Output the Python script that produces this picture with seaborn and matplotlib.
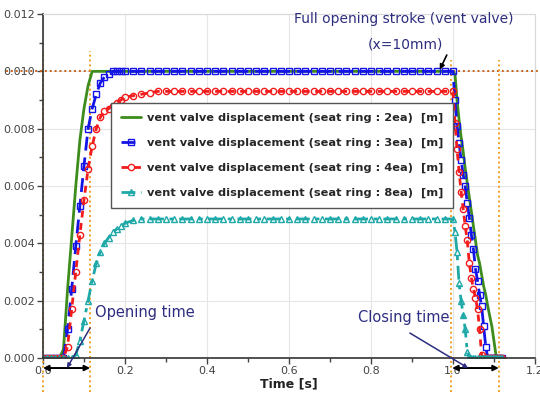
import matplotlib
matplotlib.use("Agg")
import matplotlib.pyplot as plt
import seaborn as sns
import pandas as pd

# ---------------- data ----------------
t_rise = [0.00, 0.01, 0.02, 0.03, 0.04, 0.05, 0.06, 0.07, 0.08, 0.09, 0.10,
          0.11, 0.12, 0.13, 0.14, 0.15, 0.16, 0.17, 0.18, 0.19, 0.20]
t_mid = [0.22, 0.24, 0.26, 0.28, 0.30, 0.32, 0.34, 0.36, 0.38, 0.40, 0.42, 0.44, 0.46,
         0.48, 0.50, 0.52, 0.54, 0.56, 0.58, 0.60, 0.62, 0.64, 0.66, 0.68, 0.70, 0.72,
         0.74, 0.76, 0.78, 0.80, 0.82, 0.84, 0.86, 0.88, 0.90, 0.92, 0.94, 0.96, 0.98]
t_close = [1.000, 1.005, 1.010, 1.015, 1.020, 1.025, 1.030, 1.035, 1.040, 1.045,
           1.050, 1.055, 1.060, 1.065, 1.070, 1.075, 1.080, 1.085, 1.090, 1.095,
           1.100, 1.105, 1.110, 1.115, 1.120]

green_rise = [0, 0, 0, 0, 0, 0.0003, 0.0024, 0.0042, 0.0060, 0.0076, 0.0087, 0.0095,
              0.0100, 0.0100, 0.0100, 0.0100, 0.0100, 0.0100, 0.0100, 0.0100, 0.0100]
green_mid = [0.0100, 0.0100, 0.0100, 0.0100, 0.0100, 0.0100, 0.0100, 0.0100, 0.0100, 0.0100,
             0.0100, 0.0100, 0.0100, 0.0100, 0.0100, 0.0100, 0.0100, 0.0100, 0.0100, 0.0100,
             0.0100, 0.0100, 0.0100, 0.0100, 0.0100, 0.0100, 0.0100, 0.0100, 0.0100, 0.0100,
             0.0100, 0.0100, 0.0100, 0.0100, 0.0100, 0.0100, 0.0100, 0.0100, 0.0100]
green_close = [0.0100, 0.0099, 0.0090, 0.0083, 0.0077, 0.0072, 0.0066, 0.0061, 0.0056, 0.0051,
               0.0046, 0.0041, 0.0036, 0.0033, 0.0029, 0.0025, 0.0022, 0.0018, 0.00145, 0.0011,
               0.0006, 0.0001, 0, 0, 0]

blue_rise = [0, 0, 0, 0, 0, 0, 0.0010, 0.0024, 0.0039, 0.0053, 0.0067, 0.0080,
             0.0087, 0.0092, 0.0096, 0.0098, 0.0099, 0.0100, 0.0100, 0.0100, 0.0100]
blue_mid = [0.0100, 0.0100, 0.0100, 0.0100, 0.0100, 0.0100, 0.0100, 0.0100, 0.0100, 0.0100,
            0.0100, 0.0100, 0.0100, 0.0100, 0.0100, 0.0100, 0.0100, 0.0100, 0.0100, 0.0100,
            0.0100, 0.0100, 0.0100, 0.0100, 0.0100, 0.0100, 0.0100, 0.0100, 0.0100, 0.0100,
            0.0100, 0.0100, 0.0100, 0.0100, 0.0100, 0.0100, 0.0100, 0.0100, 0.0100]
blue_close = [0.0100, 0.0090, 0.0081, 0.0075, 0.0069, 0.0064, 0.0060, 0.0054, 0.0049, 0.0043,
              0.0038, 0.0031, 0.0027, 0.0022, 0.0018, 0.0011, 0.0004, 0, 0, 0,
              0, 0, 0, 0, 0]

red_rise = [0, 0, 0, 0, 0, 0, 0.0004, 0.0017, 0.0030, 0.0043, 0.0055, 0.0066,
            0.0074, 0.0080, 0.0084, 0.0086, 0.0087, 0.0088, 0.0089, 0.0090, 0.0091]
red_mid = [0.00915, 0.0092, 0.00925, 0.0093, 0.0093, 0.0093, 0.0093, 0.0093, 0.0093, 0.0093,
           0.0093, 0.0093, 0.0093, 0.0093, 0.0093, 0.0093, 0.0093, 0.0093, 0.0093, 0.0093,
           0.0093, 0.0093, 0.0093, 0.0093, 0.0093, 0.0093, 0.0093, 0.0093, 0.0093, 0.0093,
           0.0093, 0.0093, 0.0093, 0.0093, 0.0093, 0.0093, 0.0093, 0.0093, 0.0093]
red_close = [0.0093, 0.0082, 0.0073, 0.0065, 0.0058, 0.0052, 0.0046, 0.0041, 0.0033, 0.0028,
             0.0024, 0.0021, 0.0017, 0.0010, 0.0001, 0, 0, 0, 0, 0,
             0, 0, 0, 0, 0]

cyan_rise = [0, 0, 0, 0, 0, 0, 0, 0, 0.0001, 0.0006, 0.0013, 0.0020,
             0.0027, 0.0033, 0.0037, 0.0040, 0.0042, 0.0044, 0.0045, 0.0046, 0.0047]
cyan_mid = [0.0048, 0.00485, 0.00485, 0.00485, 0.00485, 0.00485, 0.00485, 0.00485, 0.00485, 0.00485,
            0.00485, 0.00485, 0.00485, 0.00485, 0.00485, 0.00485, 0.00485, 0.00485, 0.00485, 0.00485,
            0.00485, 0.00485, 0.00485, 0.00485, 0.00485, 0.00485, 0.00485, 0.00485, 0.00485, 0.00485,
            0.00485, 0.00485, 0.00485, 0.00485, 0.00485, 0.00485, 0.00485, 0.00485, 0.00485]
cyan_close = [0.00485, 0.0044, 0.0037, 0.0026, 0.0020, 0.0015, 0.0010, 0.0002, 0, 0,
              0, 0, 0, 0, 0, 0, 0, 0, 0, 0,
              0, 0, 0, 0, 0]

labels = ["vent valve displacement (seat ring : 2ea)  [m]",
          "vent valve displacement (seat ring : 3ea)  [m]",
          "vent valve displacement (seat ring : 4ea)  [m]",
          "vent valve displacement (seat ring : 8ea)  [m]"]

x_ticks = [0.0, 0.2, 0.4, 0.6, 0.8, 1.0, 1.2]
x_ticklabels = ["0.0", "0.2", "0.4", "0.6", "0.8", "1.0", "1.2"]
y_ticks = [0.000, 0.002, 0.004, 0.006, 0.008, 0.010, 0.012]
y_ticklabels = ["0.000", "0.002", "0.004", "0.006", "0.008", "0.010", "0.012"]

full_stroke = 0.010
v_marks = [0.0, 0.115, 0.995, 1.112]
opening_span = [0.0, 0.115]
closing_span = [0.998, 1.112]

t_all = t_rise + t_mid + t_close
series_vals = [green_rise + green_mid + green_close,
               blue_rise + blue_mid + blue_close,
               red_rise + red_mid + red_close,
               cyan_rise + cyan_mid + cyan_close]

rows = []
for lab, vals in zip(labels, series_vals):
    for t, v in zip(t_all, vals):
        rows.append({"t": t, "v": v, "series": lab})
df = pd.DataFrame(rows)

# ---------------- style ----------------
sns.set_style("whitegrid")
plt.rcParams["font.family"] = ["DejaVu Sans"]

fig = plt.figure(figsize=(5.4, 3.94), dpi=100)
ax = fig.add_axes([0.0796, 0.0914, 0.911, 0.873])

styles = [
    dict(color="#3d8c1c", lw=2.0, linestyle="-", marker=None),
    dict(color="#1414e6", lw=2.0, linestyle=(0, (5, 2.5)), marker="s", markersize=4.5,
         markerfacecolor="none", markeredgecolor="#1414e6", markeredgewidth=1.0),
    dict(color="#f21c1c", lw=2.0, linestyle=(0, (2.5, 2)), marker="o", markersize=4.5,
         markerfacecolor="none", markeredgecolor="#f21c1c", markeredgewidth=1.0),
    dict(color="#1ea8a8", lw=2.0, linestyle=(0, (5, 2, 1.5, 2)), marker="^", markersize=4.5,
         markerfacecolor="none", markeredgecolor="#1ea8a8", markeredgewidth=1.0),
]

for lab, st in zip(labels, styles):
    sub = df[df["series"] == lab]
    kw = {k: v for k, v in st.items() if v is not None}
    sns.lineplot(data=sub, x="t", y="v", ax=ax, label=lab, estimator=None, sort=False, **kw)

ax.set_xlim(0, 1.2)
ax.set_ylim(0, 0.012)
ax.set_xticks(x_ticks)
ax.set_xticklabels(x_ticklabels)
ax.set_yticks(y_ticks)
ax.set_yticklabels(y_ticklabels)
ax.set_xticks([0.1, 0.3, 0.5, 0.7, 0.9, 1.1], minor=True)
ax.set_yticks([0.001, 0.003, 0.005, 0.007, 0.009, 0.011], minor=True)
ax.tick_params(axis="both", which="major", labelsize=8, colors="#444444", length=4,
               width=1, direction="out", left=True, bottom=True, pad=2)
ax.tick_params(axis="both", which="minor", length=3, width=1, colors="#444444",
               direction="out", left=True, bottom=True)
ax.grid(True, which="major", color="#e6e6e6", lw=0.8)
ax.set_xlabel("Time [s]", fontsize=9, fontweight="bold", labelpad=1, color="#222222")
ax.set_ylabel("")
for s in ["left", "bottom"]:
    ax.spines[s].set_color("#333333")
    ax.spines[s].set_linewidth(1.2)
for s in ["top", "right"]:
    ax.spines[s].set_color("#d8d8d8")
    ax.spines[s].set_linewidth(0.8)

leg = ax.legend(loc="upper left", bbox_to_anchor=(0.138, 0.741),
                prop={"weight": "bold", "size": 8.2}, frameon=True, fancybox=False,
                framealpha=1, edgecolor="#555555", labelspacing=1.3, handlelength=1.8,
                handletextpad=0.5, borderpad=0.85, borderaxespad=0)
leg.get_frame().set_linewidth(1.0)

# reference lines
ax.plot([-0.09, 1.22], [full_stroke, full_stroke], color="#c8641e", lw=1.4,
        linestyle=(0, (1, 1.5)), clip_on=False, zorder=1)
v_tops = [0.0107, 0.0107, 0.0104, 0.0104]
for xv, top in zip(v_marks, v_tops):
    ax.plot([xv, xv], [-0.0012, top], color="#f0a028", lw=1.4,
            linestyle=(0, (1, 1.5)), clip_on=False, zorder=1)

navy = "#2e2e80"
# double arrows for time spans
for span in (opening_span, closing_span):
    ax.annotate("", xy=(span[0], -0.00035), xytext=(span[1], -0.00035),
                arrowprops=dict(arrowstyle="<|-|>", color="black", lw=1.4,
                                shrinkA=0, shrinkB=0, mutation_scale=8),
                annotation_clip=False)

ax.annotate("", xy=(0.0585, -0.00035), xytext=(0.115, 0.00105),
            arrowprops=dict(arrowstyle="-|>", color=navy, lw=1.1, shrinkA=0, shrinkB=0,
                            mutation_scale=6), annotation_clip=False)
ax.annotate("", xy=(1.037, -0.00035), xytext=(0.895, 0.00087),
            arrowprops=dict(arrowstyle="-|>", color=navy, lw=1.1, shrinkA=0, shrinkB=0,
                            mutation_scale=6), annotation_clip=False)
ax.text(0.127, 0.00157, "Opening time", fontsize=10.5, color=navy, ha="left", va="center")
ax.text(0.769, 0.00140, "Closing time", fontsize=10.5, color=navy, ha="left", va="center")

ax.text(0.880, 0.01182, "Full opening stroke (vent valve)", fontsize=10, color=navy,
        ha="center", va="center")
ax.text(0.883, 0.01092, "(x=10mm)", fontsize=10, color=navy, ha="center", va="center")
ax.annotate("", xy=(0.968, 0.01006), xytext=(0.985, 0.01057),
            arrowprops=dict(arrowstyle="-|>", color="black", lw=1.2, shrinkA=0, shrinkB=0,
                            mutation_scale=7), annotation_clip=False)

fig.savefig("out.png", dpi=100)
